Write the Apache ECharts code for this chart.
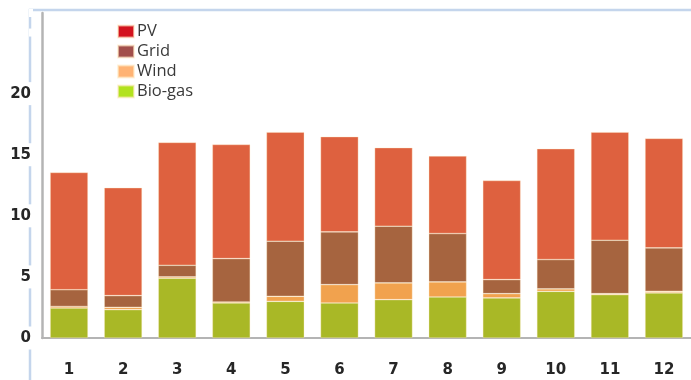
<!DOCTYPE html>
<html>
<head>
<meta charset="utf-8">
<script src="https://cdn.jsdelivr.net/npm/echarts@6/dist/echarts.min.js"></script>
<style>
  html, body { margin: 0; padding: 0; background: #fff; }
  #chart { width: 691px; height: 380px; }
</style>
</head>
<body>
<div id="chart"></div>
<script>
// Monthly energy supply by source (stacked)
const months = ['1', '2', '3', '4', '5', '6', '7', '8', '9', '10', '11', '12'];
const bioGas = [2.45, 2.32, 4.89, 2.87, 3.0, 2.87, 3.14, 3.36, 3.28, 3.82, 3.55, 3.69];
const wind   = [0.13, 0.19, 0.11, 0.08, 0.41, 1.5, 1.37, 1.23, 0.35, 0.2, 0.08, 0.13];
const grid   = [1.37, 0.96, 0.95, 3.55, 4.51, 4.32, 4.64, 3.96, 1.15, 2.4, 4.37, 3.56];
const pv     = [9.6, 8.83, 10.06, 9.34, 8.93, 7.79, 6.43, 6.34, 8.11, 9.07, 8.85, 8.96];
const yTickLabels = [0, 5, 10, 15, 20];

const chart = echarts.init(document.getElementById('chart'));

const barColors = { pv: '#de613f', grid: '#a6643f', wind: '#f1a24e', bio: '#a9b826' };
const keyColors = { pv: '#d3131d', grid: '#a24f4b', wind: '#ffb374', bio: '#b2e21e' };

function stackSeries(name, data, color) {
  return {
    name: name,
    type: 'bar',
    stack: 'total',
    data: data,
    barWidth: '70%',
    itemStyle: { color: color, borderColor: 'rgba(255,235,200,0.6)', borderWidth: 0.6 },
    emphasis: { disabled: true }
  };
}

chart.setOption({
  animation: false,
  backgroundColor: '#ffffff',
  graphic: [
    {
      type: 'polyline',
      z: -1,
      shape: { points: [[30, 380], [30, 10], [691, 10]] },
      style: { stroke: '#c4d5ec', lineWidth: 2.5, fill: null }
    }
  ],
  legend: {
    orient: 'vertical',
    left: 112,
    top: 18,
    itemWidth: 16,
    itemHeight: 12,
    itemGap: 3,
    icon: 'rect',
    textStyle: { fontFamily: 'Open Sans, DejaVu Sans, sans-serif', fontSize: 16.5, color: '#3a3a3a', padding: [0, 0, 0, -2] },
    data: [
      { name: 'PV', itemStyle: { color: keyColors.pv } },
      { name: 'Grid', itemStyle: { color: keyColors.grid } },
      { name: 'Wind', itemStyle: { color: keyColors.wind } },
      { name: 'Bio-gas', itemStyle: { color: keyColors.bio } }
    ]
  },
  grid: { left: 42, top: 13, width: 652, bottom: 42, containLabel: false },
  xAxis: {
    type: 'category',
    data: months,
    axisLine: { lineStyle: { color: '#b4b4b4', width: 2 } },
    axisTick: { show: false },
    axisLabel: {
      margin: 25,
      fontFamily: 'DejaVu Sans, sans-serif',
      fontWeight: 'bold',
      fontSize: 15,
      color: '#262626'
    }
  },
  yAxis: {
    type: 'value',
    min: 0,
    max: 26.6,
    interval: 5,
    splitLine: { show: false },
    axisTick: { show: false },
    axisLine: { show: true, lineStyle: { color: '#b4b4b4', width: 2.5 } },
    axisLabel: {
      margin: 9,
      fontFamily: 'DejaVu Sans, sans-serif',
      fontWeight: 'bold',
      fontSize: 15,
      color: '#262626',
      backgroundColor: '#ffffff',
      padding: [4, 2, 4, 2],
      formatter: function (v) { return yTickLabels.indexOf(v) >= 0 ? String(v) : ''; }
    }
  },
  series: [
    stackSeries('Bio-gas', bioGas, barColors.bio),
    stackSeries('Wind', wind, barColors.wind),
    stackSeries('Grid', grid, barColors.grid),
    stackSeries('PV', pv, barColors.pv)
  ]
});
</script>
</body>
</html>
